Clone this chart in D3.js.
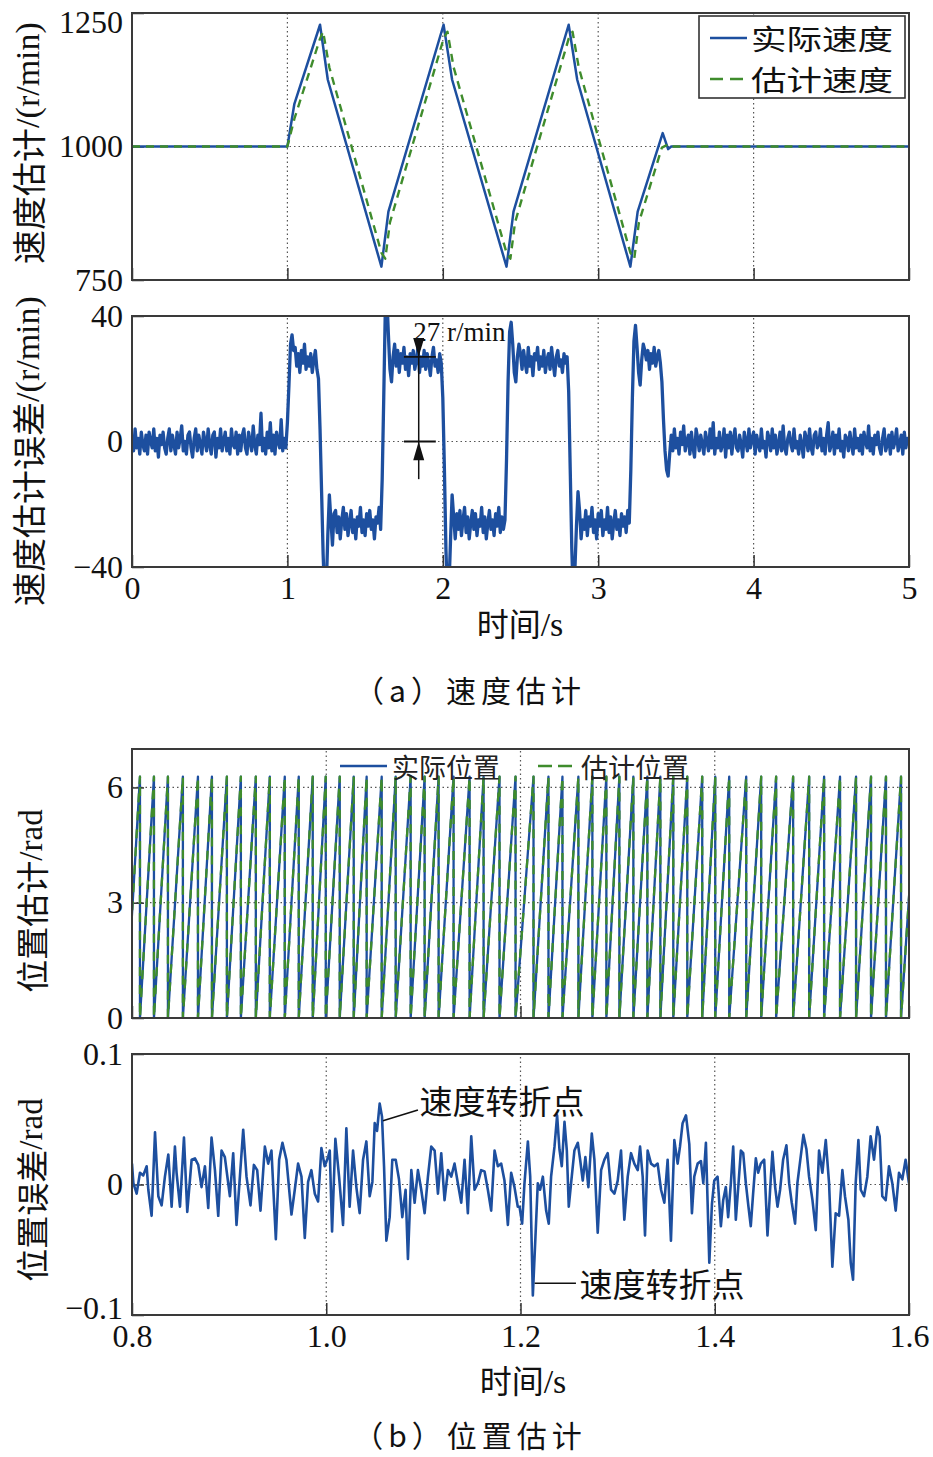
<!DOCTYPE html>
<html><head><meta charset="utf-8">
<script src="https://cdn.jsdelivr.net/npm/d3@7"></script>
<style>
body{margin:0;background:#fff;}
svg{display:block;}
</style></head>
<body>
<svg id="chart" width="933" height="1457"></svg>
<script>
// ================= DATA =================
// (a) speed: actual and estimated speed, r/min, key points [t(s), value]
const speedActual = [[0,1000],[1.0,1000],[1.045,1080],[1.21,1228],[1.26,1125],[1.605,775],[1.65,878],[2.005,1228],[2.06,1125],[2.41,775],[2.455,878],[2.81,1228],[2.865,1125],[3.207,775],[3.254,878],[3.415,1025],[3.45,995],[3.47,1000],[5,1000]];
const speedEstimated = [[0,1000],[1.0,1000],[1.045,1052],[1.21,1202],[1.23,1215],[1.27,1148],[1.605,801],[1.63,790],[1.66,858],[2.005,1202],[2.03,1215],[2.07,1148],[2.41,801],[2.435,790],[2.465,858],[2.81,1202],[2.835,1215],[2.875,1148],[3.207,801],[3.232,790],[3.262,858],[3.41,998],[3.45,1004],[3.47,1000],[5,1000]];

// speed estimation error, r/min, sampled every 0.01 s, one array per second
const errStep = 0.01;
const errSec0 = [2,-3,4,-2,1,-4,3,-1,-3,2, -4,3,0,-2,4,-3,1,-5,2,-1, 3,-2,-4,1,4,-3,2,-1,-4,3, -2,1,5,-3,0,-4,2,3,-2,-5, 1,4,-3,2,-1,-4,3,0,-3,4, -1,-4,2,3,-5,1,-2,4,-3,0, 3,-3,1,-4,4,-1,-2,3,-4,2, -3,2,4,-2,-4,3,0,-3,5,-1, -4,2,-1,9,-3,1,-4,3,-2,6, -3,2,-4,3,0,-2,7,-3,1,-2];
const errSec1 = [6,18,31,34,29, 30,24,28,22,29,25,31,23,27,24,28,22,26,29,23, 20,4,-16,-36,-50,-47,-30,-17,-25,-33,-23, -22,-29,-24,-31,-25,-21,-28,-23,-30,-26,-22,-29,-25,-31,-24,-27,-21,-29,-25,-30,-23,-27,-22,-28,-25,-31,-24,-26,-21,-28, -12,14,42,46,34,23,19,27,31, 24,29,22,28,25,30,23,27,21,28,25,29,23,26,30,22,27,24,29,23,28,25,21,27,30,24,26,22,28,25];
const errSec2 = [14,-8,-34,-50,-46,-31,-17,-24,-31,-23, -28,-22,-30,-25,-21,-29,-24,-31,-26,-22,-28,-23,-30,-25,-27,-21,-29,-24,-31,-26,-22,-28,-25,-30,-23,-27,-21,-29,-24,-28,-25, -6,19,35,38,31,22,19,27,31, 28,23,29,25,22,30,24,27,21,28,26,30,23,27,24,29,22,26,28,23,30,25,21,27,29,24,26,22,28,25,27, 16,-9,-34,-50,-41,-27,-16,-22,-31,-25, -28,-22,-30,-24,-27,-21,-29,-25,-31];
const errSec3 = [-23,-27,-22,-30,-25,-28,-21,-29,-24,-31,-26,-22,-28,-25,-30,-23,-27,-24,-29,-22,-26, -9,14,32,37,30,22,18,26,31,29, 26,29,23,28,25,30,24,27,29,25, 19,7,-3,-9,-11,-4,2, -3,4,-2,1,-4,3,-1,5,-3,0, 2,-4,3,-2,-5,4,1,-3,2,-1, -4,3,0,-3,4,-2,6,-4,1,-2, 3,-3,-1,4,-5,2,-2,3,-4,1, 4,-2,-3,2,-1,-5,3,0,-3,4, -2,1];
const errSec4 = [3,-4,2,-1,-3,4,-2,0,-5,3, 1,-3,4,-2,2,-4,-1,3,-3,5, -2,-4,1,3,-1,-3,4,-2,0,-4, 2,-1,-5,3,1,-3,4,-2,-4,2, 3,-2,-1,4,-3,1,-4,2,6,-3, -1,3,-4,2,-2,4,-3,0,-5,2, 1,-3,3,-1,-4,4,-2,1,-3,2, -4,3,0,-2,5,-3,1,-4,2,-1, 3,-2,-4,1,4,-3,-1,2,-4,3, -2,0,4,-3,-1,2,-4,3,-2,1, -1];

// (b) position: times (s) where the electrical angle wraps from 2π to 0
const posWrapT = [0.7938,0.8082,0.8226,0.8370,0.8524,0.8679,0.8823,0.8977,0.9121,0.9275,0.9419,0.9573,0.9717,0.9861,0.9995,1.0139,1.0283,1.0416,1.0571,1.0715,1.0869,1.1013,1.1157,1.1311,1.1476,1.1620,1.1784,1.1949,1.2134,1.2288,1.2432,1.2596,1.2740,1.2884,1.3018,1.3162,1.3306,1.3440,1.3573,1.3717,1.3871,1.4005,1.4149,1.4324,1.4478,1.4632,1.4807,1.4972,1.5126,1.5290,1.5455,1.5609,1.5763,1.5918,1.6082];
const posPeak = 6.28;

// position estimation error, rad, [t(s), value]
const posErrPoints = [[0.8000,0.016],[0.8014,0.001],[0.8048,-0.007],[0.8082,0.009],[0.8116,0.007],[0.8151,0.014],[0.8168,-0.004],[0.8202,-0.024],[0.8237,0.040],[0.8271,-0.009],[0.8305,-0.016],[0.8339,0.006],[0.8374,0.023],[0.8408,-0.017],[0.8442,0.029],[0.8459,0.009],[0.8494,-0.017],[0.8535,0.036],[0.8569,-0.021],[0.8614,0.019],[0.8648,0.020],[0.8682,0.015],[0.8716,-0.002],[0.8751,0.014],[0.8785,-0.018],[0.8819,0.036],[0.8854,0.011],[0.8888,-0.024],[0.8922,0.026],[0.8956,0.021],[0.9008,-0.009],[0.9042,0.024],[0.9076,-0.031],[0.9111,0.006],[0.9145,0.042],[0.9179,0.006],[0.9220,-0.016],[0.9255,0.015],[0.9289,0.011],[0.9323,-0.020],[0.9368,0.029],[0.9402,0.016],[0.9436,0.026],[0.9481,-0.042],[0.9515,0.019],[0.9549,0.032],[0.9590,0.019],[0.9642,-0.023],[0.9676,-0.004],[0.9710,0.016],[0.9745,0.006],[0.9779,-0.041],[0.9813,0.002],[0.9847,0.011],[0.9882,-0.007],[0.9916,-0.013],[0.9950,0.028],[0.9984,0.014],[1.0019,0.021],
[1.0036,0.026],[1.0060,-0.036],[1.0094,0.035],[1.0132,0.006],[1.0173,-0.031],[1.0207,0.043],[1.0241,-0.017],[1.0276,0.026],[1.0310,-0.002],[1.0344,-0.022],[1.0379,0.019],[1.0413,0.033],[1.0447,-0.009],[1.0475,0.002],[1.0499,0.047],[1.0523,0.041],[1.0550,0.062],[1.0574,0.052],[1.0595,0.014],[1.0619,-0.043],[1.0653,-0.025],[1.0680,0.019],[1.0715,0.019],[1.0749,0.004],[1.0783,-0.025],[1.0817,-0.004],[1.0841,-0.057],[1.0876,0.011],[1.0910,-0.014],[1.0944,0.011],[1.0978,-0.004],[1.1013,-0.022],[1.1047,0.006],[1.1081,0.029],[1.1116,0.026],[1.1150,-0.007],[1.1184,0.024],[1.1218,-0.012],[1.1253,0.011],[1.1287,0.006],[1.1321,0.016],[1.1355,0.001],[1.1390,-0.014],[1.1424,0.019],[1.1458,-0.022],[1.1493,0.037],[1.1527,-0.004],[1.1561,0.001],[1.1595,0.011],[1.1630,0.010],[1.1664,-0.004],[1.1698,-0.020],[1.1733,0.026],[1.1767,0.014],[1.1801,0.016],[1.1835,0.003],[1.1870,-0.031],[1.1904,0.009],[1.1938,-0.002],[1.1972,-0.017],
[1.1990,-0.017],[1.2017,-0.030],[1.2041,0.001],[1.2076,0.033],[1.2100,0.006],[1.2127,-0.085],[1.2154,-0.040],[1.2178,0.001],[1.2202,-0.004],[1.2230,0.006],[1.2264,-0.020],[1.2291,-0.030],[1.2315,0.006],[1.2350,0.029],[1.2377,0.053],[1.2401,0.027],[1.2425,0.014],[1.2453,0.048],[1.2477,0.026],[1.2497,-0.017],[1.2521,0.001],[1.2555,0.026],[1.2590,0.032],[1.2614,0.019],[1.2641,0.003],[1.2668,0.021],[1.2699,-0.002],[1.2734,0.039],[1.2761,0.019],[1.2795,-0.037],[1.2830,0.011],[1.2864,0.019],[1.2898,0.024],[1.2932,-0.004],[1.2967,-0.007],[1.3001,0.003],[1.3035,0.026],[1.3069,-0.027],[1.3104,0.006],[1.3138,0.024],[1.3172,0.016],[1.3207,0.011],[1.3231,0.029],[1.3258,0.006],[1.3282,-0.039],[1.3309,0.026],[1.3344,0.016],[1.3378,0.014],[1.3412,0.016],[1.3447,-0.004],[1.3481,-0.014],[1.3515,0.019],[1.3549,-0.043],[1.3584,0.034],[1.3618,0.016],[1.3642,0.029],[1.3669,0.047],[1.3704,0.053],[1.3738,0.031],[1.3765,-0.022],[1.3789,0.006],[1.3824,0.016],[1.3858,0.018],[1.3882,0.001],[1.3909,0.032],[1.3944,-0.060],[1.3971,-0.015],[1.3995,0.003],[1.4029,0.006],
[1.4063,-0.032],[1.4087,-0.012],[1.4114,-0.002],[1.4138,-0.025],[1.4166,0.001],[1.4190,0.029],[1.4217,-0.027],[1.4245,0.001],[1.4269,0.026],[1.4293,0.024],[1.4320,0.001],[1.4347,-0.017],[1.4371,-0.032],[1.4395,-0.007],[1.4423,0.020],[1.4447,0.009],[1.4474,0.016],[1.4509,0.019],[1.4543,-0.039],[1.4570,-0.004],[1.4594,0.025],[1.4622,-0.002],[1.4646,-0.017],[1.4673,-0.004],[1.4704,0.019],[1.4738,0.030],[1.4766,0.001],[1.4793,-0.014],[1.4827,-0.030],[1.4851,0.001],[1.4886,0.022],[1.4913,0.038],[1.4944,0.027],[1.4971,0.006],[1.5006,-0.012],[1.5040,-0.035],[1.5074,0.026],[1.5108,0.009],[1.5143,0.034],[1.5177,0.001],[1.5211,-0.063],[1.5245,-0.022],[1.5280,-0.024],[1.5314,0.011],[1.5341,-0.009],[1.5376,-0.027],[1.5400,-0.060],[1.5424,-0.073],[1.5451,0.001],[1.5479,0.034],[1.5503,-0.004],[1.5537,-0.009],[1.5571,0.006],[1.5605,0.037],[1.5640,0.019],[1.5674,0.044],[1.5698,0.037],[1.5725,-0.009],[1.5760,-0.012],[1.5794,0.014],[1.5828,0.001],[1.5863,-0.020],[1.5897,0.009],[1.5931,0.004],[1.5965,0.019],[1.6000,0.001]];

// ticks
const speedXTicks = [0,1,2,3,4,5];
const speedYTicks = [750,1000,1250];
const errYTicks = [-40,0,40];
const posXTicks = [0.8,1.0,1.2,1.4,1.6];
const posYTicks = [0,3,6];
const posErrYTicks = [-0.1,0,0.1];

// texts
const legendSpeed = ["实际速度","估计速度"];
const legendPos = ["实际位置","估计位置"];
const turnLabel = "速度转折点";

// ================= DRAWING =================
const BLUE = "#1d4f9f", GREEN = "#3f8c2c", INK = "#111";
const CJK = "'Noto Sans CJK SC', sans-serif";
const SERIF = "'Liberation Serif', 'Times New Roman', serif";
const svg = d3.select("#chart");

const L = 132, R = 909;
const panels = {
  p1: {x: d3.scaleLinear([0,5],[L,R]), y: d3.scaleLinear([750,1250],[280,13])},
  p2: {x: d3.scaleLinear([0,5],[L,R]), y: d3.scaleLinear([-40,40],[567,316])},
  p3: {x: d3.scaleLinear([0.8,1.6],[L,R]), y: d3.scaleLinear([0,7],[1018,749])},
  p4: {x: d3.scaleLinear([0.8,1.6],[L,R]), y: d3.scaleLinear([-0.1,0.1],[1315,1054])}
};

const defs = svg.append("defs");
Object.entries(panels).forEach(([k,p])=>{
  defs.append("clipPath").attr("id","clip-"+k).append("rect")
    .attr("x",p.x.range()[0]).attr("y",p.y.range()[1])
    .attr("width",p.x.range()[1]-p.x.range()[0]).attr("height",p.y.range()[0]-p.y.range()[1]);
});

function fmt(v){ return (v<0?"\u2212":"") + Math.abs(v); }

function frame(key, xTicks, yTicks, xGrid, yGrid, xFmt, yFmt, showXLabels){
  const p = panels[key];
  const g = svg.append("g").attr("class","frame-"+key);
  const [x0,x1] = p.x.range(), [y0,y1] = p.y.range();
  g.selectAll("line.vg").data(xGrid).join("line").attr("class","vg")
    .attr("x1",d=>p.x(d)).attr("x2",d=>p.x(d)).attr("y1",y0).attr("y2",y1)
    .attr("stroke","#555").attr("stroke-width",1.2).attr("stroke-dasharray","1.5,3");
  g.selectAll("line.hg").data(yGrid).join("line").attr("class","hg")
    .attr("y1",d=>p.y(d)).attr("y2",d=>p.y(d)).attr("x1",x0).attr("x2",x1)
    .attr("stroke","#555").attr("stroke-width",1.2).attr("stroke-dasharray","1.5,3");
  const ax = g.append("g").attr("class","xaxis").attr("transform",`translate(0,${y0})`)
    .call(d3.axisBottom(p.x).tickValues(xTicks).tickSize(-12).tickPadding(9).tickFormat(showXLabels? xFmt : ()=>""));
  const ay = g.append("g").attr("class","yaxis").attr("transform",`translate(${x0},0)`)
    .call(d3.axisLeft(p.y).tickValues(yTicks).tickSize(-12).tickPadding(9).tickFormat(yFmt));
  [ax,ay].forEach(a=>{
    a.select(".domain").remove();
    a.selectAll(".tick line").attr("stroke","#333").attr("stroke-width",1.5);
    a.selectAll(".tick text").attr("fill",INK).style("font-family",SERIF).style("font-size","32px");
  });
  return {g, ax, ay};
}
function border(key){
  const p = panels[key];
  const [x0,x1] = p.x.range(), [y0,y1] = p.y.range();
  svg.append("rect").attr("x",x0).attr("y",y1).attr("width",x1-x0).attr("height",y0-y1)
    .attr("fill","none").attr("stroke","#3a3a3a").attr("stroke-width",2);
}
function plotLine(key, data, color, width, dash, curve){
  const p = panels[key];
  const line = d3.line().x(d=>p.x(d[0])).y(d=>p.y(d[1])).curve(curve||d3.curveLinear);
  svg.append("path").datum(data).attr("clip-path",`url(#clip-${key})`)
    .attr("d",line).attr("fill","none").attr("stroke",color).attr("stroke-width",width)
    .attr("stroke-linejoin","round").attr("stroke-dasharray",dash||null);
}
function yLabel(parts, x, y){
  const t = svg.append("text").attr("transform",`translate(${x},${y}) rotate(-90)`)
    .attr("text-anchor","middle").attr("dominant-baseline","central").attr("fill",INK);
  parts.forEach(([s,fam,size])=>t.append("tspan").text(s).style("font-family",fam).style("font-size",size+"px"));
}
function centerText(parts, x, y){
  const t = svg.append("text").attr("x",x).attr("y",y).attr("text-anchor","middle").attr("fill",INK);
  parts.forEach(([s,fam,size,ls])=>{
    const sp = t.append("tspan").text(s).style("font-family",fam).style("font-size",size+"px");
    if (ls) sp.style("letter-spacing",ls+"px");
  });
}

// ---------- Panel 1 ----------
const f1 = frame("p1", speedXTicks, speedYTicks, [1,2,3,4], [1000], d3.format("d"), fmt, false);
f1.ay.selectAll(".tick text").filter(d=>d===1250).attr("dy","0.62em");
plotLine("p1", speedActual, BLUE, 2.5);
plotLine("p1", speedEstimated, GREEN, 2.4, "8,6");
border("p1");
(function(){
  const g = svg.append("g");
  g.append("rect").attr("x",699).attr("y",16).attr("width",206).attr("height",82)
    .attr("fill","#fff").attr("stroke","#333").attr("stroke-width",1.6);
  const rows = [{y:38,c:BLUE,d:null},{y:79,c:GREEN,d:"13,7"}];
  rows.forEach((r,i)=>{
    g.append("line").attr("x1",710).attr("x2",747).attr("y1",r.y).attr("y2",r.y)
      .attr("stroke",r.c).attr("stroke-width",2.6).attr("stroke-dasharray",r.d);
    g.append("text").attr("x",751).attr("y",r.y).attr("dominant-baseline","central")
      .attr("textLength",142).attr("lengthAdjust","spacingAndGlyphs")
      .attr("fill",INK).style("font-family",CJK).style("font-size","28px").text(legendSpeed[i]);
  });
})();

// ---------- Panel 2 ----------
frame("p2", speedXTicks, errYTicks, [1,2,3,4], [0], d3.format("d"), fmt, true);
const errSeries = [];
[[0,errSec0],[1,errSec1],[2,errSec2],[3,errSec3],[4,errSec4]].forEach(([t0,arr])=>
  arr.forEach((v,i)=>errSeries.push([t0+i*errStep, v])));
plotLine("p2", errSeries, BLUE, 3.3);
border("p2");
(function(){
  const p = panels.p2, ax = 1.845, hw = 5.5;
  const g = svg.append("g").attr("stroke","#111").attr("fill","#111");
  g.append("line").attr("x1",p.x(ax)).attr("x2",p.x(ax)).attr("y1",p.y(33)).attr("y2",p.y(-12)).attr("stroke-width",1.5);
  [27,0].forEach(v=>g.append("line").attr("x1",p.x(1.75)).attr("x2",p.x(1.955)).attr("y1",p.y(v)).attr("y2",p.y(v)).attr("stroke-width",1.8));
  const xa = p.x(ax);
  g.append("path").attr("stroke","none").attr("d",`M${xa},${p.y(27)}L${xa-hw},${p.y(33)}L${xa+hw},${p.y(33)}Z`);
  g.append("path").attr("stroke","none").attr("d",`M${xa},${p.y(0)}L${xa-hw},${p.y(-6)}L${xa+hw},${p.y(-6)}Z`);
  svg.append("text").attr("x",p.x(1.81)).attr("y",p.y(32)).attr("fill",INK)
    .style("font-family",SERIF).style("font-size","27px").text("27 r/min");
})();

yLabel([["速度估计",CJK,34],["/(r/min)",SERIF,34]], 27, 143);
yLabel([["速度估计误差",CJK,34],["/(r/min)",SERIF,34]], 27, 451);
centerText([["时间",CJK,32],["/s",SERIF,34]], 520, 636);
centerText([["（a）速度估计",CJK,30,5]], 470, 702);

// ---------- Panel 3 ----------
frame("p3", posXTicks, posYTicks, [1.0,1.2,1.4], [3,6], d3.format(".1f"), d3.format("d"), false);
const posSeries = [];
for (let i=0;i<posWrapT.length-1;i++){ posSeries.push([posWrapT[i],0],[posWrapT[i+1],posPeak]); }
plotLine("p3", posSeries, BLUE, 2.3);
plotLine("p3", posSeries, GREEN, 2.3, "9,9");
border("p3");
(function(){
  const g = svg.append("g");
  g.append("line").attr("x1",340).attr("x2",387).attr("y1",766).attr("y2",766).attr("stroke",BLUE).attr("stroke-width",2.4);
  g.append("line").attr("x1",538).attr("x2",573).attr("y1",766).attr("y2",766).attr("stroke",GREEN).attr("stroke-width",2.4).attr("stroke-dasharray","14,6");
  g.append("text").attr("x",392).attr("y",766).attr("dominant-baseline","central").attr("fill","#222")
    .style("font-family",CJK).style("font-size","27px").text(legendPos[0]);
  g.append("text").attr("x",581).attr("y",766).attr("dominant-baseline","central").attr("fill","#222")
    .style("font-family",CJK).style("font-size","27px").text(legendPos[1]);
})();
yLabel([["位置估计",CJK,33],["/rad",SERIF,33]], 31, 901);

// ---------- Panel 4 ----------
const f4 = frame("p4", posXTicks, posErrYTicks, [1.0,1.2,1.4], [0], d3.format(".1f"), fmt, true);
f4.ay.selectAll(".tick text").filter(d=>d===-0.1).attr("dy","0.1em");
plotLine("p4", posErrPoints, BLUE, 2.6);
border("p4");
(function(){
  const p = panels.p4;
  const g = svg.append("g");
  g.append("line").attr("x1",p.x(1.0584)).attr("y1",p.y(0.0489)).attr("x2",p.x(1.0944)).attr("y2",p.y(0.0571))
    .attr("stroke","#111").attr("stroke-width",1.6);
  g.append("text").attr("x",p.x(1.0961)).attr("y",p.y(0.054)).attr("fill",INK)
    .style("font-family",CJK).style("font-size","33px").text(turnLabel);
  g.append("line").attr("x1",p.x(1.2146)).attr("y1",p.y(-0.0757)).attr("x2",p.x(1.2571)).attr("y2",p.y(-0.0757))
    .attr("stroke","#111").attr("stroke-width",1.6);
  g.append("text").attr("x",p.x(1.2607)).attr("y",p.y(-0.0862)).attr("fill",INK)
    .style("font-family",CJK).style("font-size","33px").text(turnLabel);
})();
yLabel([["位置误差",CJK,33],["/rad",SERIF,33]], 31, 1190);
centerText([["时间",CJK,32],["/s",SERIF,34]], 523, 1393);
centerText([["（b）位置估计",CJK,30,5]], 470, 1447);
</script>
</body></html>
